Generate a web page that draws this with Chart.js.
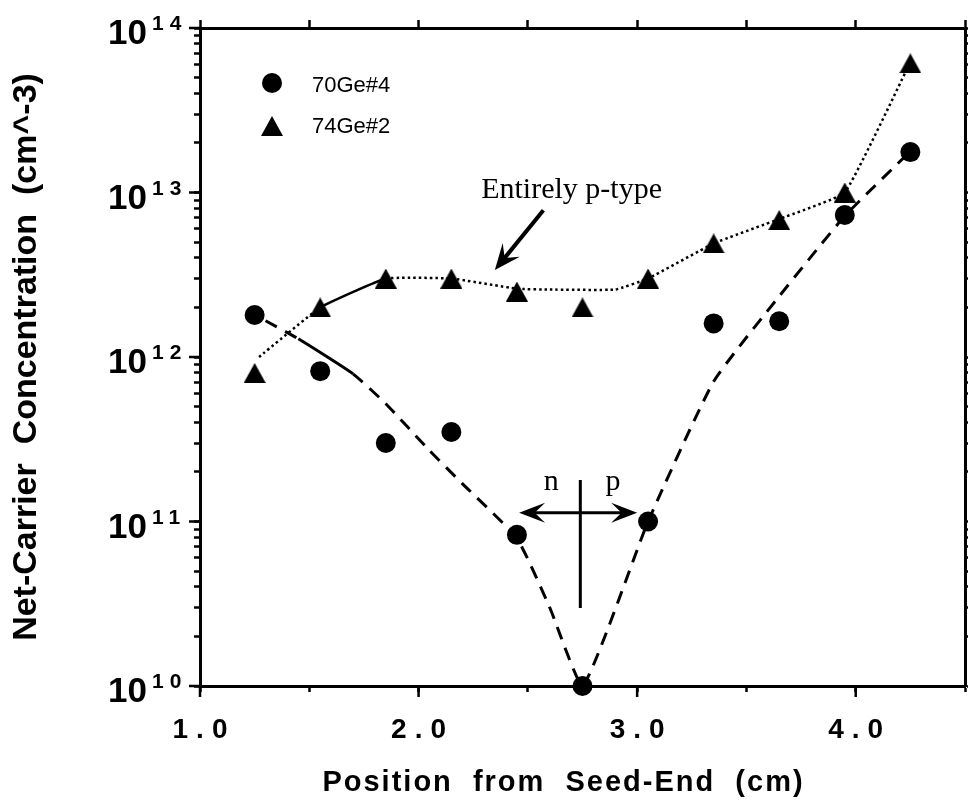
<!DOCTYPE html>
<html>
<head>
<meta charset="utf-8">
<title>Net-Carrier Concentration</title>
<script src="https://cdn.jsdelivr.net/npm/chart.js@4.4.0/dist/chart.umd.min.js"></script>
<style>
  html, body { margin: 0; padding: 0; background: #fff; }
  #chart { display: block; }
</style>
</head>
<body>
<canvas id="chart" width="976" height="801"></canvas>
<script>
// sample positions along the crystal (cm from seed end)
const positions = [1.25, 1.55, 1.85, 2.15, 2.45, 2.75, 3.05, 3.35, 3.65, 3.95, 4.25];
// net-carrier concentration (cm^-3)
const ge70 = [1.8e12, 8.2e11, 3.0e11, 3.5e11, 8.3e10, 1.0e10, 1.0e11, 1.6e12, 1.65e12, 7.3e12, 1.76e13];
const ge74 = [8.0e11, 2.0e12, 3.0e12, 3.0e12, 2.5e12, 2.0e12, 3.0e12, 4.9e12, 6.8e12, 1.0e13, 6.1e13];

// trend curves drawn through each set
const ge70TrendX = [1.30, 1.45, 1.70, 1.85, 2.05, 2.20, 2.45, 2.60, 2.75, 3.05, 3.35, 3.65, 3.95, 4.25];
const ge70TrendY = [1.66e12, 1.29e12, 7.9e11, 5.2e11, 2.7e11, 1.7e11, 7.9e10, 3.0e10, 1.0e10, 1.0e11, 7.1e11, 2.34e12, 7.2e12, 1.78e13];
const ge74TrendX = [1.27, 1.55, 1.85, 2.15, 2.45, 2.60, 2.90, 3.05, 3.35, 3.65, 3.95, 4.25];
const ge74TrendY = [1.0e12, 2.0e12, 3.0e12, 3.0e12, 2.6e12, 2.57e12, 2.57e12, 3.0e12, 4.9e12, 6.9e12, 1.0e13, 6.2e13];

// axes
const xLabels = [1, 2, 3, 4];
const yDecades = [10, 11, 12, 13, 14];
const yTicks = [];
for (let e = 10; e < 14; e++) for (let s = 1; s < 10; s++) yTicks.push(s * Math.pow(10, e));
yTicks.push(1e14);
const xTitle = 'Position  from  Seed-End  (cm)';
const yTitle = 'Net-Carrier  Concentration  (cm^-3)';

// annotation anchors in data units
const pTypeText = { x: 2.70, y: 9.3e12 };
const pTypeArrow = { x0: 2.571, y0: 7.8e12, x1: 2.349, y1: 3.38e12 };
const junction = { x: 2.74, yLow: 2.98e10, yHigh: 1.79e11, yArrow: 1.13e11, xLeft: 2.46, xRight: 3.0 };
const nLabel = { x: 2.607, y: 1.55e11 };
const pLabel = { x: 2.89, y: 1.55e11 };

const SANS = '"Liberation Sans", Arial, Helvetica, sans-serif';
const SERIF = '"Liberation Serif", "Times New Roman", Times, serif';

function makeTriangle(w, h){
  const c = document.createElement('canvas');
  c.width = w; c.height = h;
  const g = c.getContext('2d');
  g.beginPath(); g.moveTo(w/2, 0); g.lineTo(w, h); g.lineTo(0, h); g.closePath();
  g.fillStyle = '#000'; g.fill();
  return c;
}
const triangle = makeTriangle(22, 20);

function toPoints(xs, ys){ return xs.map((v, i) => ({x: v, y: ys[i]})); }

// filled barbed arrow head, tip at (x,y) pointing along angle a
function arrowHead(ctx, x, y, a, len, half){
  const cx = Math.cos(a), sx = Math.sin(a);
  const bx = x - cx*len, by = y - sx*len;
  const nx = x - cx*len*0.6, ny = y - sx*len*0.6;
  ctx.beginPath();
  ctx.moveTo(x, y);
  ctx.lineTo(bx - sx*half, by + cx*half);
  ctx.lineTo(nx, ny);
  ctx.lineTo(bx + sx*half, by - cx*half);
  ctx.closePath();
  ctx.fill();
}

function spacedText(ctx, text, x, y, spacing){
  // centred text with letter spacing
  ctx.letterSpacing = spacing + 'px';
  const w = ctx.measureText(text).width - spacing;
  ctx.textAlign = 'left';
  ctx.fillText(text, x - w/2, y);
  ctx.letterSpacing = '0px';
}

const decorations = {
  id: 'decorations',
  afterDraw(chart){
    const {ctx, chartArea: area, scales: {x, y}} = chart;
    ctx.save();
    ctx.fillStyle = '#000';
    ctx.strokeStyle = '#000';
    ctx.textBaseline = 'alphabetic';

    // longer marks for the major ticks
    ctx.lineWidth = 2.5;
    ctx.beginPath();
    xLabels.forEach(v => { const px = x.getPixelForValue(v); ctx.moveTo(px, area.bottom); ctx.lineTo(px, area.bottom + 11); });
    yDecades.forEach(d => { const py = y.getPixelForValue(Math.pow(10, d)); ctx.moveTo(area.left, py); ctx.lineTo(area.left - 11, py); });
    ctx.stroke();

    // x tick labels
    ctx.font = 'bold 28px ' + SANS;
    xLabels.forEach(v => spacedText(ctx, v.toFixed(1), x.getPixelForValue(v), area.bottom + 52, 8));

    // x axis title
    ctx.font = 'bold 29px ' + SANS;
    spacedText(ctx, xTitle, (area.left + area.right) / 2 - 20, area.bottom + 105, 2);

    // y tick labels as 10 with a raised exponent
    yDecades.forEach(d => {
      const py = y.getPixelForValue(Math.pow(10, d));
      ctx.font = 'bold 35px ' + SANS;
      ctx.textAlign = 'right';
      ctx.fillText('10', area.left - 53, py + 16);
      ctx.font = 'bold 21px ' + SANS;
      ctx.textAlign = 'left';
      ctx.letterSpacing = '6px';
      ctx.fillText(String(d), area.left - 48, py + 2);
      ctx.letterSpacing = '0px';
    });

    // legend
    const lx = area.left + 72;
    ctx.beginPath(); ctx.arc(lx, area.top + 55, 10, 0, Math.PI*2); ctx.fill();
    ctx.drawImage(triangle, lx - 11, area.top + 98 - 10);
    ctx.font = '22px ' + SANS;
    ctx.textAlign = 'left';
    ctx.fillText('70Ge#4', lx + 40, area.top + 64);
    ctx.fillText('74Ge#2', lx + 40, area.top + 105);

    // "Entirely p-type" note and its arrow
    ctx.font = '30px ' + SERIF;
    ctx.textAlign = 'center';
    ctx.fillText('Entirely p-type', x.getPixelForValue(pTypeText.x), y.getPixelForValue(pTypeText.y));
    const ax0 = x.getPixelForValue(pTypeArrow.x0), ay0 = y.getPixelForValue(pTypeArrow.y0);
    const ax1 = x.getPixelForValue(pTypeArrow.x1), ay1 = y.getPixelForValue(pTypeArrow.y1);
    const ang = Math.atan2(ay1 - ay0, ax1 - ax0);
    ctx.lineWidth = 4;
    ctx.beginPath(); ctx.moveTo(ax0, ay0); ctx.lineTo(ax1 - Math.cos(ang)*14, ay1 - Math.sin(ang)*14); ctx.stroke();
    arrowHead(ctx, ax1, ay1, ang, 26, 11);

    // n / p junction marker
    const jx = x.getPixelForValue(junction.x);
    ctx.lineWidth = 3;
    ctx.beginPath();
    ctx.moveTo(jx, y.getPixelForValue(junction.yHigh));
    ctx.lineTo(jx, y.getPixelForValue(junction.yLow));
    const jy = y.getPixelForValue(junction.yArrow);
    const xl = x.getPixelForValue(junction.xLeft), xr = x.getPixelForValue(junction.xRight);
    ctx.moveTo(xl + 12, jy); ctx.lineTo(xr - 12, jy);
    ctx.stroke();
    arrowHead(ctx, xl, jy, Math.PI, 26, 10);
    arrowHead(ctx, xr, jy, 0, 26, 10);
    ctx.font = '30px ' + SERIF;
    ctx.textAlign = 'center';
    ctx.fillText('n', x.getPixelForValue(nLabel.x), y.getPixelForValue(nLabel.y));
    ctx.fillText('p', x.getPixelForValue(pLabel.x), y.getPixelForValue(pLabel.y));

    ctx.restore();
  }
};

const axisGrid = { drawOnChartArea: false, tickLength: 6, tickWidth: 2.5, tickColor: '#000' };
const axisBorder = { width: 3, color: '#000' };

new Chart(document.getElementById('chart'), {
  type: 'scatter',
  data: {
    datasets: [
      { label: '70Ge#4', data: toPoints(positions, ge70), pointStyle: 'circle', pointRadius: 10,
        backgroundColor: '#000', borderWidth: 0, showLine: false, clip: false, order: 0 },
      { label: '74Ge#2', data: toPoints(positions, ge74), pointStyle: triangle, pointRadius: 11,
        backgroundColor: '#000', borderWidth: 0, showLine: false, clip: false, order: 0 },
      { label: '70Ge#4 trend', data: toPoints(ge70TrendX, ge70TrendY), showLine: true, pointRadius: 0,
        borderColor: '#000', borderWidth: 3, borderDash: [13, 9], tension: 0.15, order: 1,
        segment: { borderDash: c => c.p0DataIndex === 1 ? [] : undefined } },
      { label: '74Ge#2 trend', data: toPoints(ge74TrendX, ge74TrendY), showLine: true, pointRadius: 0,
        borderColor: '#000', borderWidth: 2.5, borderDash: [2.5, 3], tension: 0.1, order: 1,
        segment: { borderDash: c => c.p0DataIndex === 1 ? [] : undefined } }
    ]
  },
  options: {
    responsive: false,
    animation: false,
    devicePixelRatio: 1,
    layout: { padding: 0 },
    plugins: { legend: { display: false }, tooltip: { enabled: false } },
    scales: {
      x: {
        type: 'linear', position: 'bottom', min: 1, max: 4.5,
        ticks: { display: false, stepSize: 0.5 },
        grid: axisGrid, border: axisBorder,
        afterFit: s => { s.height = 115; }
      },
      xTop: {
        type: 'linear', position: 'top', min: 1, max: 4.5,
        ticks: { display: false, stepSize: 0.5 },
        grid: Object.assign({}, axisGrid, { tickLength: 8 }), border: axisBorder,
        afterFit: s => { s.height = 28; }
      },
      y: {
        type: 'logarithmic', position: 'left', min: 1e10, max: 1e14,
        afterBuildTicks: s => { s.ticks = yTicks.map(v => ({value: v})); },
        ticks: { display: false },
        grid: axisGrid, border: axisBorder,
        title: { display: true, text: yTitle, color: '#000',
                 font: { family: SANS, size: 34, weight: 'bold' }, padding: { top: 6, bottom: 0 } },
        afterFit: s => { s.width = 200; }
      },
      yRight: {
        type: 'logarithmic', position: 'right', min: 1e10, max: 1e14,
        afterBuildTicks: s => { s.ticks = yTicks.map(v => ({value: v})); },
        ticks: { display: false },
        grid: Object.assign({}, axisGrid, { tickLength: 3 }), border: axisBorder,
        afterFit: s => { s.width = 3; }
      }
    }
  },
  plugins: [decorations]
});
</script>
</body>
</html>
